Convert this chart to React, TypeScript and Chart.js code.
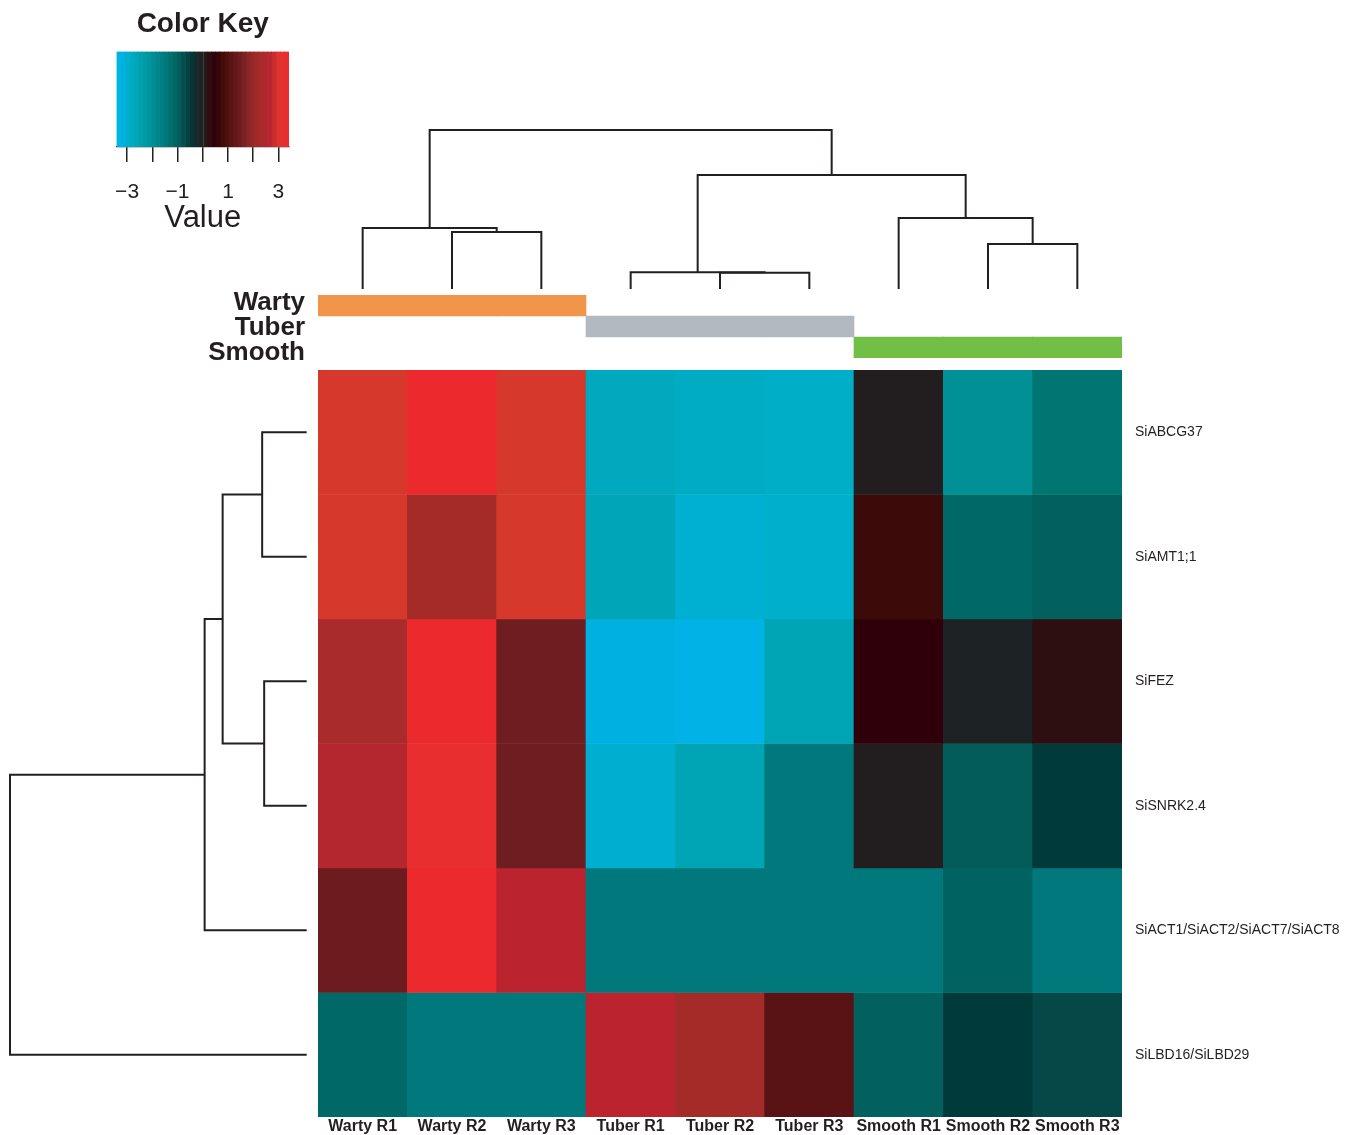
import React, { useEffect, useRef } from 'react';
import { Chart, registerables } from 'chart.js';

Chart.register(...registerables);

const FONT = "'Liberation Sans', Arial, Helvetica, sans-serif";
const INK = '#231f20';

// ---------- data ----------
const colLabels = ['Warty R1', 'Warty R2', 'Warty R3', 'Tuber R1', 'Tuber R2', 'Tuber R3', 'Smooth R1', 'Smooth R2', 'Smooth R3'];
const rowLabels = ['SiABCG37', 'SiAMT1;1', 'SiFEZ', 'SiSNRK2.4', 'SiACT1/SiACT2/SiACT7/SiACT8', 'SiLBD16/SiLBD29'];

const valABCG37 = [2.9, 3.42, 2.9, -2.75, -2.85, -2.9, 0, -2.0, -1.4];
const valAMT11 = [2.9, 2.2, 2.9, -2.65, -3.05, -2.95, 0.7, -1.15, -1.0];
const valFEZ = [2.4, 3.42, 1.5, -3.2, -3.3, -2.6, 0.45, -0.15, 0.25];
const valSNRK24 = [2.6, 3.2, 1.5, -3.0, -2.6, -1.5, 0, -0.95, -0.5];
const valACT = [1.45, 3.42, 2.72, -1.5, -1.5, -1.5, -1.5, -1.05, -1.5];
const valLBD = [-1.15, -1.5, -1.5, 2.72, 2.2, 1.1, -1.0, -0.5, -0.7];
const rowValues = [valABCG37, valAMT11, valFEZ, valSNRK24, valACT, valLBD];

const groupLabels = ['Warty', 'Tuber', 'Smooth'];
const groupOfColumn = [0, 0, 0, 1, 1, 1, 2, 2, 2];
const groupColors = ['#f0954a', '#b3b9c1', '#71bf45'];

// hclust-style merges: negative = leaf (1-based), positive = earlier merge step
const colMerge = [[-2, -3], [-1, 1], [-5, -6], [-4, 3], [-8, -9], [-7, 5], [4, 6], [2, 7]];
const colHeights = [57, 61, 16.3, 16.7, 45, 71, 114, 159];
const rowMerge = [[-1, -2], [-3, -4], [1, 2], [3, -5], [4, -6]];
const rowHeights = [44.5, 42.5, 84, 102, 296.5];

// colour key
const keyMin = -3.42;
const keyMax = 3.42;
const keyTicks = [-3, -2, -1, 0, 1, 2, 3];
const keyTickLabels = ['\u22123', '', '\u22121', '', '1', '', '3'];
const rampValues = [-3.42, -3.2, -3.05, -2.9, -2.75, -2.6, -2.0, -1.5, -1.4, -1.15, -1.0, -0.7, -0.5, -0.15, 0, 0.25, 0.45, 0.7, 1.1, 1.5, 1.8, 2.2, 2.4, 2.6, 2.75, 2.9, 3.2, 3.42];
const rampColors = ['#00b5ec', '#00b0e0', '#00b0d2', '#00aec8', '#00a9bd', '#00a5b5', '#009096', '#00787c', '#007673', '#006866', '#02605e', '#064848', '#003a3a', '#1d2325', '#221e1f', '#2d0f11', '#30000a', '#3c0a08', '#5a1314', '#6e1d20', '#8a2626', '#a52b29', '#a92b2b', '#b5272f', '#bd232f', '#d6382b', '#e82e2f', '#ec2a2e'];
const keyBinCount = 40;

// ---------- helpers ----------
function hexToRgb(h: string) {
  const n = parseInt(h.slice(1), 16);
  return [(n >> 16) & 255, (n >> 8) & 255, n & 255];
}
function valueToColor(v: number) {
  if (v <= rampValues[0]) return rampColors[0];
  const last = rampValues.length - 1;
  if (v >= rampValues[last]) return rampColors[last];
  for (let i = 0; i < last; i++) {
    const a = rampValues[i], b = rampValues[i + 1];
    if (v >= a && v <= b) {
      const t = b === a ? 0 : (v - a) / (b - a);
      const ca = hexToRgb(rampColors[i]), cb = hexToRgb(rampColors[i + 1]);
      const c = ca.map((x, k) => Math.round(x + (cb[k] - x) * t));
      return `rgb(${c[0]},${c[1]},${c[2]})`;
    }
  }
  return rampColors[last];
}

type Pt = { p: number; h: number };
function dendroSegments(merge: number[][], heights: number[]): Pt[][] {
  const pos: number[] = [];
  const hts: number[] = [];
  const get = (id: number): Pt => (id < 0 ? { p: -id - 1, h: 0 } : { p: pos[id - 1], h: hts[id - 1] });
  return merge.map(([a, b], i) => {
    const A = get(a), B = get(b), h = heights[i];
    pos[i] = (A.p + B.p) / 2;
    hts[i] = h;
    return [A, { p: A.p, h }, { p: B.p, h }, B];
  });
}

function noPad(s: any) {
  s.paddingTop = 0;
  s.paddingBottom = 0;
  s.paddingLeft = 0;
  s.paddingRight = 0;
}

const baseOpts = {
  animation: false as const,
  responsive: false,
  events: [] as any[],
  plugins: { legend: { display: false }, tooltip: { enabled: false }, title: { display: false } },
};

// ---------- configs ----------
function heatmapConfig(): any {
  return {
    type: 'bar',
    data: {
      labels: colLabels,
      datasets: rowValues.map((vals, r) => ({
        data: vals.map(() => [r, r + 1]),
        backgroundColor: vals.map(valueToColor),
        borderWidth: 0,
        grouped: false,
        barPercentage: 1,
        categoryPercentage: 1,
      })),
    },
    options: {
      ...baseOpts,
      layout: { padding: 0 },
      scales: {
        x: {
          type: 'category',
          offset: true,
          grid: { display: false, drawTicks: false },
          border: { display: false },
          ticks: { font: { family: FONT, size: 16, weight: 'bold' }, color: INK, padding: 0, autoSkip: false, maxRotation: 0 },
          afterFit: (s: any) => { s.height = 18; noPad(s); },
        },
        y: {
          type: 'linear',
          position: 'right',
          min: 0,
          max: rowLabels.length,
          reverse: true,
          grid: { display: false, drawTicks: false },
          border: { display: false },
          ticks: {
            font: { family: FONT, size: 14 },
            color: INK,
            padding: 13,
            autoSkip: false,
            callback: (v: number) => rowLabels[Math.floor(v)],
          },
          afterBuildTicks: (s: any) => { s.ticks = rowLabels.map((_, i) => ({ value: i + 0.5 })); },
          afterFit: (s: any) => { s.width = 232; noPad(s); },
        },
      },
    },
  };
}

function colorBarConfig(): any {
  return {
    type: 'bar',
    data: {
      labels: colLabels,
      datasets: groupLabels.map((_, gi) => ({
        data: groupOfColumn.map((g) => (g === gi ? [gi, gi + 1] : null)),
        backgroundColor: groupColors[gi],
        borderWidth: 0,
        grouped: false,
        barPercentage: 1,
        categoryPercentage: 1,
        yAxisID: 'y',
      })),
    },
    options: {
      ...baseOpts,
      layout: { padding: { top: 10, bottom: 7, left: 0, right: 0 } },
      scales: {
        x: { type: 'category', display: false, offset: true },
        y: { type: 'linear', display: false, min: 0, max: groupLabels.length, reverse: true },
        y2: {
          type: 'linear',
          position: 'left',
          min: 0.2,
          max: 2.72,
          reverse: true,
          grid: { display: false, drawTicks: false },
          border: { display: false },
          ticks: {
            font: { family: FONT, size: 26, weight: 'bold' },
            color: INK,
            padding: 13,
            autoSkip: false,
            callback: (v: number) => groupLabels[Math.floor(v)],
          },
          afterBuildTicks: (s: any) => { s.ticks = groupLabels.map((_, i) => ({ value: i + 0.5 })); },
          afterFit: (s: any) => { s.width = 138; noPad(s); },
        },
      },
    },
  };
}

function lineDS(points: { x: number; y: number }[]) {
  return {
    data: points,
    showLine: true,
    pointRadius: 0,
    borderColor: INK,
    borderWidth: 2,
    tension: 0,
    clip: false,
  };
}

function colDendroConfig(): any {
  const segs = dendroSegments(colMerge, colHeights);
  return {
    type: 'scatter',
    data: { datasets: segs.map((s) => lineDS(s.map((p) => ({ x: p.p, y: p.h })))) },
    options: {
      ...baseOpts,
      layout: { padding: { top: 10, bottom: 11, left: 0, right: 0 } },
      scales: {
        x: { type: 'linear', display: false, min: -0.5, max: colLabels.length - 0.5 },
        y: { type: 'linear', display: false, min: 0, max: Math.max(...colHeights) },
      },
    },
  };
}

function rowDendroConfig(): any {
  const segs = dendroSegments(rowMerge, rowHeights);
  return {
    type: 'scatter',
    data: { datasets: segs.map((s) => lineDS(s.map((p) => ({ x: p.h, y: p.p })))) },
    options: {
      ...baseOpts,
      layout: { padding: { top: 0, bottom: 0, left: 10, right: 11.3 } },
      scales: {
        x: { type: 'linear', display: false, min: 0, max: Math.max(...rowHeights), reverse: true },
        y: { type: 'linear', display: false, min: -0.5, max: rowLabels.length - 0.5, reverse: true },
      },
    },
  };
}

function keyConfig(): any {
  const w = (keyMax - keyMin) / keyBinCount;
  const edges = Array.from({ length: keyBinCount }, (_, i) => keyMin + i * w);
  return {
    type: 'bar',
    data: {
      labels: ['key'],
      datasets: edges.map((lo) => ({
        data: [[lo, lo + w]],
        backgroundColor: valueToColor(lo + w / 2),
        borderWidth: 0,
        grouped: false,
        barPercentage: 1,
        categoryPercentage: 1,
      })),
    },
    options: {
      ...baseOpts,
      indexAxis: 'y',
      layout: { padding: { left: 16.5, right: 17, top: 0, bottom: 0 } },
      plugins: {
        legend: { display: false },
        tooltip: { enabled: false },
        title: {
          display: true,
          text: 'Color Key',
          color: INK,
          font: { family: FONT, size: 28, weight: 'bold' },
          padding: { top: 7, bottom: 10.9 },
        },
      },
      scales: {
        x: {
          type: 'linear',
          min: keyMin,
          max: keyMax,
          offset: false,
          grid: { display: true, offset: false, drawOnChartArea: false, drawTicks: true, tickLength: 15, color: INK, lineWidth: 1.5 },
          border: { display: true, color: INK, width: 1.2 },
          ticks: {
            font: { family: FONT, size: 21 },
            color: INK,
            padding: 18,
            autoSkip: false,
            maxRotation: 0,
            callback: (_v: number, i: number) => keyTickLabels[i],
          },
          afterBuildTicks: (s: any) => { s.ticks = keyTicks.map((v) => ({ value: v })); },
          title: { display: true, text: 'Value', color: INK, font: { family: FONT, size: 31 }, padding: { top: 0, bottom: 3 } },
          afterFit: (s: any) => { s.height = 240 - 147; noPad(s); },
        },
        y: { type: 'category', display: false, offset: true },
      },
    },
  };
}

// ---------- components ----------
function ChartCanvas(props: { left: number; top: number; width: number; height: number; config: () => any }) {
  const ref = useRef<HTMLCanvasElement>(null);
  useEffect(() => {
    const chart = new Chart(ref.current as HTMLCanvasElement, props.config());
    return () => chart.destroy();
  }, []);
  return (
    <canvas
      ref={ref}
      width={props.width}
      height={props.height}
      style={{ position: 'absolute', left: props.left, top: props.top, width: props.width, height: props.height }}
    />
  );
}

export default function App() {
  return (
    <div style={{ position: 'absolute', left: 0, top: 0, width: 1354, height: 1135, background: '#fff', overflow: 'hidden' }}>
      <ChartCanvas left={100} top={0} width={206} height={240} config={keyConfig} />
      <ChartCanvas left={318} top={120} width={804} height={180} config={colDendroConfig} />
      <ChartCanvas left={180} top={285} width={942} height={80} config={colorBarConfig} />
      <ChartCanvas left={0} top={370} width={318} height={747} config={rowDendroConfig} />
      <ChartCanvas left={318} top={370} width={1036} height={765} config={heatmapConfig} />
    </div>
  );
}
